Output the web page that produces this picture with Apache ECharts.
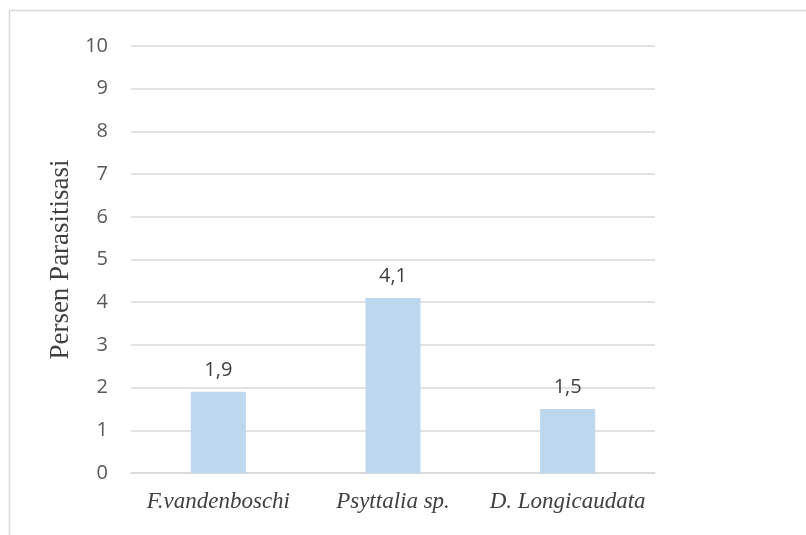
<!DOCTYPE html>
<html>
<head>
<meta charset="utf-8">
<script src="https://cdn.jsdelivr.net/npm/echarts@6/dist/echarts.min.js"></script>
<style>
  html, body { margin: 0; padding: 0; background: #fff; }
  #chart { width: 806px; height: 535px; }
</style>
</head>
<body>
<div id="chart"></div>
<script>
// Parasitism percentage per parasitoid species
const categories = ['F.vandenboschi', 'Psyttalia sp.', 'D. Longicaudata'];
const values = [1.9, 4.1, 1.5];
const yTicks = { min: 0, max: 10, interval: 1 };

const chart = echarts.init(document.getElementById('chart'));

chart.setOption({
  animation: false,
  backgroundColor: '#ffffff',
  graphic: [{
    type: 'rect',
    shape: { x: 9.5, y: 10.5, width: 820, height: 560 },
    style: { fill: 'none', stroke: '#d9d9d9', lineWidth: 1.5 },
    silent: true
  }],
  grid: { left: 131, right: 151, top: 46, bottom: 62, containLabel: false },
  xAxis: {
    type: 'category',
    data: categories,
    axisLine: { show: true, lineStyle: { color: '#d9d9d9', width: 1.5 } },
    axisTick: { show: false },
    axisLabel: {
      interval: 0,
      hideOverlap: false,
      color: '#404040',
      fontFamily: 'Liberation Serif',
      fontStyle: 'italic',
      fontSize: 23,
      margin: 17
    }
  },
  yAxis: {
    type: 'value',
    min: yTicks.min,
    max: yTicks.max,
    interval: yTicks.interval,
    name: 'Persen Parasitisasi',
    nameLocation: 'middle',
    nameGap: 50,
    nameTextStyle: { color: '#404040', fontFamily: 'Liberation Serif', fontSize: 27 },
    axisLine: { show: false },
    axisTick: { show: false },
    splitLine: { lineStyle: { color: '#d9d9d9', width: 1.5 } },
    axisLabel: {
      color: '#595959',
      fontFamily: 'Open Sans',
      fontSize: 20,
      margin: 23
    }
  },
  series: [{
    type: 'bar',
    data: values,
    barWidth: 55,
    itemStyle: { color: '#bdd7ee' },
    label: {
      show: true,
      position: 'top',
      distance: 12,
      color: '#404040',
      fontFamily: 'Open Sans',
      fontSize: 20,
      formatter: p => String(p.value).replace('.', ',')
    }
  }]
});
</script>
</body>
</html>
